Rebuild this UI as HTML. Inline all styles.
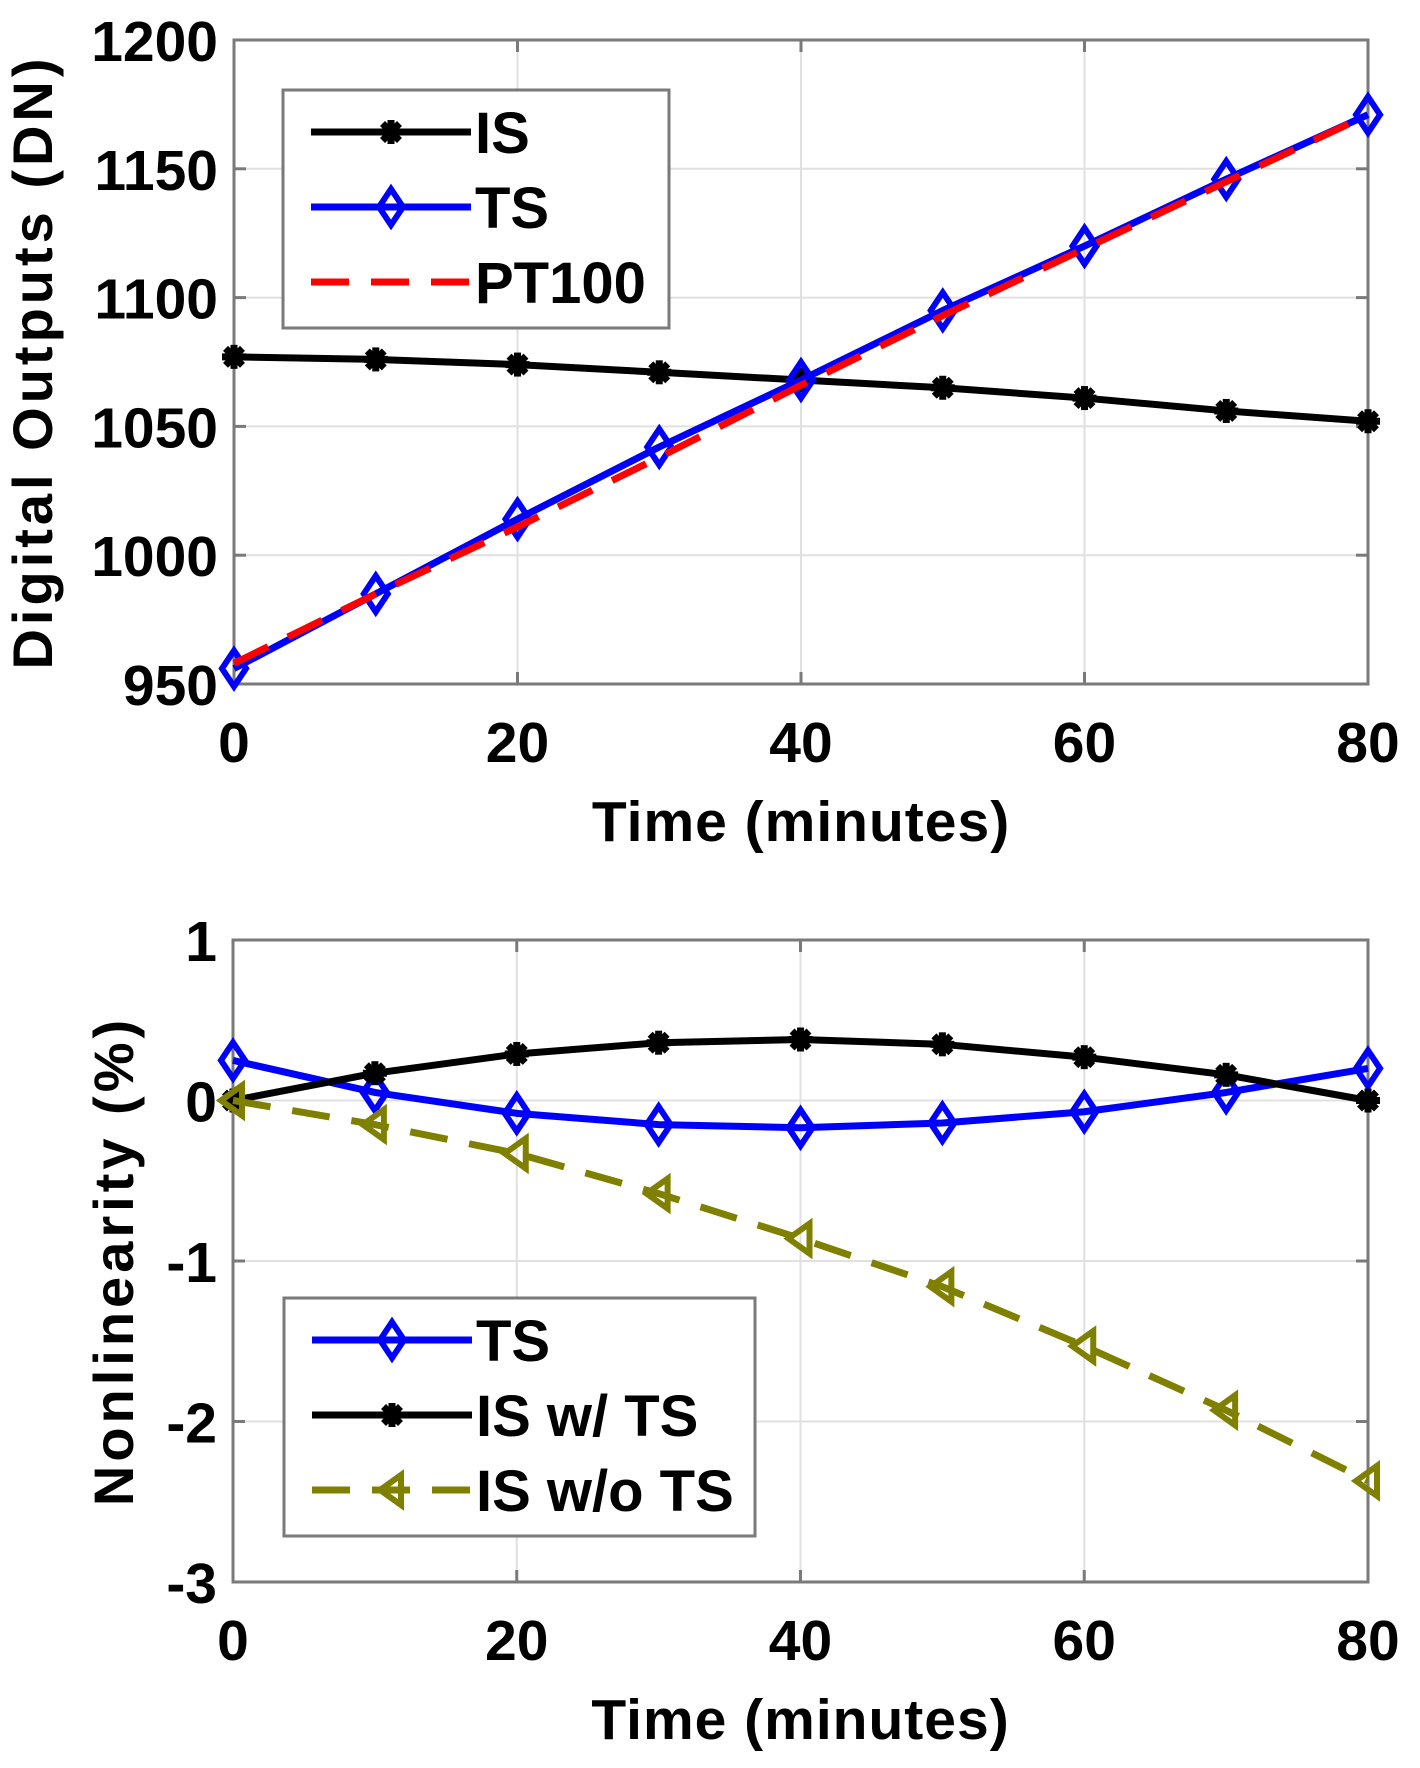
<!DOCTYPE html>
<html><head><meta charset="utf-8"><style>
html,body{margin:0;padding:0;background:#fff}
svg{display:block}
text{font-family:"Liberation Sans",Arial,sans-serif;font-weight:bold;fill:#000}
</style></head><body>
<svg id="fig" width="1420" height="1768" viewBox="0 0 1420 1768" xmlns="http://www.w3.org/2000/svg"></svg>
<script>
const times=[0,10,20,30,40,50,60,70,80];
const xTicks=[0,20,40,60,80];
const topYTicks=[950,1000,1050,1100,1150,1200];
const topIS=[1077,1076,1074,1071,1068,1065,1061,1056,1052];
const topTS=[956,985,1014,1042,1068,1095,1120,1146,1171];
const topPT=[958,985,1011,1038,1066,1093,1119,1145,1171];
const botYTicks=[-3,-2,-1,0,1];
const botTS=[0.25,0.05,-0.08,-0.15,-0.17,-0.14,-0.07,0.05,0.2];
const botISw=[0,0.17,0.29,0.36,0.38,0.35,0.27,0.16,0.0];
const botISwo=[0,-0.15,-0.33,-0.58,-0.86,-1.16,-1.53,-1.93,-2.37];

const NS="http://www.w3.org/2000/svg";
const svg=document.getElementById('fig');
function mk(tag,attrs,parent){const e=document.createElementNS(NS,tag);for(const k in attrs)e.setAttribute(k,attrs[k]);(parent||svg).appendChild(e);return e;}

function marker(g,type,x,y,color){
  let m;
  if(type==='diamond'){
    m=mk('path',{d:`M${x},${y-18} L${x+12},${y} L${x},${y+18} L${x-12},${y} Z`,fill:'none',stroke:color,'stroke-width':6},g);
  } else if(type==='star'){
    m=mk('g',{},g);
    const r=12;
    for(const a of [0,45,90,135]){const rad=a*Math.PI/180;
      mk('line',{x1:x-r*Math.cos(rad),y1:y-r*Math.sin(rad),x2:x+r*Math.cos(rad),y2:y+r*Math.sin(rad),stroke:color,'stroke-width':7},m);}
    mk('circle',{cx:x,cy:y,r:9,fill:color},m);
  } else {
    m=mk('path',{d:`M${x-12},${y} L${x+9},${y-15} L${x+9},${y+15} Z`,fill:'none',stroke:color,'stroke-width':6},g);
  }
  
  
}

function panel(o){
  const {L,R,T,B,ymin,ymax,yTicks,series,legend,ylabel,ylabelX,name}=o;
  const g=mk('g',{});
  
  
  const xs=v=>L+(v-0)/80*(R-L);
  const ys=v=>B-(v-ymin)/(ymax-ymin)*(B-T);
  const grid=mk('g',{},g);
  
  
  xTicks.forEach(t=>{mk('line',{x1:xs(t),x2:xs(t),y1:T,y2:B,stroke:'#e0e0e0','stroke-width':2},grid);});
  yTicks.forEach(t=>{mk('line',{x1:L,x2:R,y1:ys(t),y2:ys(t),stroke:'#e0e0e0','stroke-width':2},grid);});
  const ax=mk('rect',{x:L,y:T,width:R-L,height:B-T,fill:'none',stroke:'#7a7a7a','stroke-width':3},g);
  
  
  xTicks.forEach(t=>{
    mk('line',{x1:xs(t),x2:xs(t),y1:B,y2:B-12,stroke:'#7a7a7a','stroke-width':3},g);
    mk('line',{x1:xs(t),x2:xs(t),y1:T,y2:T+12,stroke:'#7a7a7a','stroke-width':3},g);
    const tx=mk('text',{x:xs(t),y:B+78,'text-anchor':'middle','font-size':57},g);tx.textContent=t;
    
    
  });
  yTicks.forEach(t=>{
    mk('line',{x1:L,x2:L+12,y1:ys(t),y2:ys(t),stroke:'#7a7a7a','stroke-width':3},g);
    mk('line',{x1:R,x2:R-12,y1:ys(t),y2:ys(t),stroke:'#7a7a7a','stroke-width':3},g);
    const ty=mk('text',{x:L-16,y:ys(t)+21,'text-anchor':'end','font-size':57},g);ty.textContent=t;
    
    
  });
  series.forEach(s=>{
    const sg=mk('g',{},g);
    
    
    const pts=times.map((t,i)=>xs(t)+','+ys(s.vals[i])).join(' ');
    const attrs={points:pts,fill:'none',stroke:s.color,'stroke-width':7,'stroke-linejoin':'round'};
    if(s.dash)attrs['stroke-dasharray']=s.dash;
    mk('polyline',attrs,sg);
    if(s.marker)times.forEach((t,i)=>marker(sg,s.marker,xs(t),ys(s.vals[i]),s.color));
  });
  const lg=mk('g',{},g);
  
  
  mk('rect',{x:legend.x,y:legend.y,width:legend.w,height:legend.h,fill:'#fff',stroke:'#7a7a7a','stroke-width':3},lg);
  series.forEach((s,i)=>{
    const cy=legend.y+42+i*75;
    const eg=mk('g',{},lg);
    
    
    const a={x1:legend.x+28,x2:legend.x+188,y1:cy,y2:cy,stroke:s.color,'stroke-width':7};
    if(s.dash)a['stroke-dasharray']=s.dash;
    mk('line',a,eg);
    if(s.marker)marker(eg,s.marker,legend.x+108,cy,s.color);
    const lt=mk('text',{x:legend.x+192,y:cy+21,'font-size':58},eg);lt.textContent=s.label;
  });
  const xl=mk('text',{x:(L+R)/2,y:B+157,'text-anchor':'middle','font-size':57,'letter-spacing':1},g);
  xl.textContent='Time (minutes)';
  
  
  const cy=(T+B)/2;
  const yl=mk('text',{x:ylabelX,y:cy,'text-anchor':'middle','font-size':56,'letter-spacing':4,transform:`rotate(-90 ${ylabelX} ${cy})`},g);
  yl.textContent=ylabel;
  
  
}

panel({name:'top-chart',L:234,R:1368,T:40,B:684,ymin:950,ymax:1200,yTicks:topYTicks,
  ylabel:'Digital Outputs (DN)',ylabelX:52,
  legend:{x:283,y:90,w:386,h:238},
  series:[
    {id:'series-is',label:'IS',vals:topIS,color:'#000',marker:'star'},
    {id:'series-ts',label:'TS',vals:topTS,color:'#0000ff',marker:'diamond'},
    {id:'series-pt100',label:'PT100',vals:topPT,color:'#ff0000',dash:'38,22'}
  ]});
panel({name:'bottom-chart',L:233,R:1368,T:940,B:1582,ymin:-3,ymax:1,yTicks:botYTicks,
  ylabel:'Nonlinearity (%)',ylabelX:133,
  legend:{x:284,y:1298,w:471,h:238},
  series:[
    {id:'series-ts',label:'TS',vals:botTS,color:'#0000ff',marker:'diamond'},
    {id:'series-is-with-ts',label:'IS w/ TS',vals:botISw,color:'#000',marker:'star'},
    {id:'series-is-without-ts',label:'IS w/o TS',vals:botISwo,color:'#808000',marker:'tri',dash:'38,22'}
  ]});
</script>
</body></html>
